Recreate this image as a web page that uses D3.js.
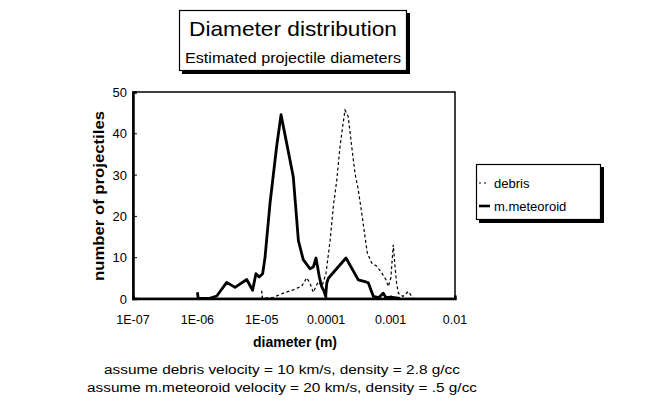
<!DOCTYPE html>
<html>
<head>
<meta charset="utf-8">
<script src="https://cdn.jsdelivr.net/npm/d3@7"></script>
<style>
  body { margin: 0; background: #fff; }
  text { font-family: Arial, "Liberation Sans", sans-serif; fill: #000; }
</style>
</head>
<body>
<script>
// Values
const xTickValues = [1e-7, 1e-6, 1e-5, 1e-4, 1e-3, 1e-2];
const xTickLabels = ["1E-07", "1E-06", "1E-05", "0.0001", "0.001", "0.01"];
const yTickValues = [0, 10, 20, 30, 40, 50];

const meteoroidD = [1.0e-6, 1.03e-6, 1.5e-6, 2.0e-6, 2.85e-6, 3.84e-6, 5.83e-6, 7.2e-6, 8.1e-6, 9.1e-6,
  1.03e-5, 1.12e-5, 1.34e-5, 1.70e-5, 1.99e-5, 2.44e-5, 3.08e-5, 3.7e-5, 4.4e-5, 5.6e-5,
  6.3e-5, 6.95e-5, 7.8e-5, 8.5e-5, 9.3e-5, 9.8e-5, 1.02e-4, 1.08e-4, 2.03e-4, 3.15e-4,
  4.0e-4, 4.5e-4, 5.4e-4, 6.5e-4, 7.7e-4, 8.5e-4, 1.0e-3, 1.4e-3];
const meteoroidN = [1.5, 0, 0, 0.6, 3.9, 2.7, 4.6, 2, 6, 5.2,
  6, 9.8, 23, 36.8, 44.5, 37.5, 29.5, 14, 9.4, 7.2,
  7.6, 9.8, 5.3, 2.9, 1.7, 0.5, 3.7, 4.9, 9.8, 4.5,
  4.1, 3.8, 0.5, 0.2, 1.3, 0.2, 0.3, 0];

const debrisD = [9.95e-6, 1.02e-5, 1.51e-5, 2.16e-5, 3.08e-5, 4.17e-5, 4.98e-5, 5.6e-5, 6.3e-5, 7.5e-5,
  8.6e-5, 9.9e-5, 1.15e-4, 1.29e-4, 1.46e-4, 1.64e-4, 1.80e-4, 1.96e-4, 2.20e-4, 2.49e-4,
  2.80e-4, 3.15e-4, 3.56e-4, 4.0e-4, 4.35e-4, 5.1e-4, 6.1e-4, 7.3e-4, 8.5e-4, 9.2e-4,
  1.01e-3, 1.10e-3, 1.17e-3, 1.24e-3, 1.32e-3, 1.55e-3, 1.88e-3, 2.25e-3];
const debrisN = [1.9, 0, 0.3, 1.3, 2.1, 3, 5, 3.7, 1.5, 4,
  3, 6, 14, 22.3, 28.7, 36.8, 41.6, 45.6, 44, 36.8,
  30.3, 26.3, 20.7, 15, 11, 8.6, 7.8, 6.2, 4.5, 2.9,
  5, 13, 7.8, 3.7, 1.3, 0.5, 1.7, 0];

const svg = d3.select('body').append('svg')
  .attr('width', 660)
  .attr('height', 417);

// plot area
const plotLeft = 133, plotRight = 455, plotTop = 92, plotBottom = 298.5;

const xScale = d3.scaleLog().domain([1e-7, 1e-2]).range([plotLeft, plotRight]);
const yScale = d3.scaleLinear().domain([0, 50]).range([plotBottom, plotTop]);

// title box with shadow
svg.append('rect').attr('x', 182).attr('y', 13).attr('width', 228).attr('height', 61).attr('fill', '#000');
svg.append('rect').attr('x', 179.5).attr('y', 10.5).attr('width', 227).attr('height', 60)
  .attr('fill', '#fff').attr('stroke', '#000').attr('stroke-width', 1.2);
svg.append('text').attr('x', 293).attr('y', 36).attr('text-anchor', 'middle')
  .attr('font-size', '21px').attr('textLength', 208).attr('lengthAdjust', 'spacingAndGlyphs')
  .text('Diameter distribution');
svg.append('text').attr('x', 293).attr('y', 63).attr('text-anchor', 'middle')
  .attr('font-size', '15px').attr('textLength', 216).attr('lengthAdjust', 'spacingAndGlyphs')
  .text('Estimated projectile diameters');

// frame
svg.append('rect').attr('x', plotLeft).attr('y', plotTop)
  .attr('width', plotRight - plotLeft).attr('height', plotBottom - plotTop)
  .attr('fill', 'none').attr('stroke', '#000').attr('stroke-width', 1.5);

// y axis
const yAxis = svg.append('g')
  .attr('transform', 'translate(' + plotLeft + ',0)')
  .call(d3.axisRight(yScale).tickValues(yTickValues).tickSize(4).tickFormat(''));
yAxis.select('.domain').attr('stroke-width', 2.5);
svg.selectAll('.ylab')
  .data(yTickValues)
  .enter().append('text')
  .attr('class', 'ylab')
  .attr('x', 127)
  .attr('y', d => yScale(d) + 5)
  .attr('text-anchor', 'end')
  .attr('font-size', '13px')
  .text(d => d);

// x axis
const xAxis = svg.append('g')
  .attr('transform', 'translate(0,' + plotBottom + ')')
  .call(d3.axisTop(xScale).tickValues(xTickValues).tickSize(3).tickFormat(''));
xAxis.select('.domain').attr('stroke-width', 2.5);
svg.selectAll('.xlab')
  .data(xTickValues)
  .enter().append('text')
  .attr('class', 'xlab')
  .attr('x', d => xScale(d))
  .attr('y', 324)
  .attr('text-anchor', 'middle')
  .attr('font-size', '12.5px')
  .text((d, i) => xTickLabels[i]);

// axis titles
svg.append('text').attr('x', 295).attr('y', 347).attr('text-anchor', 'middle')
  .attr('font-size', '14px').attr('font-weight', 'bold').text('diameter (m)');
svg.append('text')
  .attr('transform', 'translate(104,196) rotate(-90)')
  .attr('text-anchor', 'middle')
  .attr('font-size', '15px').attr('font-weight', 'bold')
  .attr('textLength', 170).attr('lengthAdjust', 'spacingAndGlyphs')
  .text('number of projectiles');

// lines
const line = d3.line()
  .x(d => xScale(d[0]))
  .y(d => yScale(d[1]));

svg.append('path')
  .datum(debrisD.map((d, i) => [d, debrisN[i]]))
  .attr('d', line)
  .attr('fill', 'none')
  .attr('stroke', '#000')
  .attr('stroke-width', 1.2)
  .attr('stroke-dasharray', '3,2.5');

svg.append('path')
  .datum(meteoroidD.map((d, i) => [d, meteoroidN[i]]))
  .attr('d', line)
  .attr('fill', 'none')
  .attr('stroke', '#000')
  .attr('stroke-width', 2.8)
  .attr('stroke-linejoin', 'round');

// legend
svg.append('rect').attr('x', 479).attr('y', 167).attr('width', 125).attr('height', 56).attr('fill', '#000');
svg.append('rect').attr('x', 476.5).attr('y', 164.5).attr('width', 124).attr('height', 55)
  .attr('fill', '#fff').attr('stroke', '#000').attr('stroke-width', 1.2);
svg.append('line').attr('x1', 479).attr('x2', 489).attr('y1', 183).attr('y2', 183)
  .attr('stroke', '#000').attr('stroke-width', 1.2).attr('stroke-dasharray', '2,3');
svg.append('line').attr('x1', 479).attr('x2', 490).attr('y1', 206).attr('y2', 206)
  .attr('stroke', '#000').attr('stroke-width', 2.6);
svg.append('text').attr('x', 494).attr('y', 188).attr('font-size', '13px').text('debris');
svg.append('text').attr('x', 494).attr('y', 211).attr('font-size', '13px').text('m.meteoroid');

// notes
svg.append('text').attr('x', 282).attr('y', 374).attr('text-anchor', 'middle')
  .attr('font-size', '12.5px').attr('textLength', 356).attr('lengthAdjust', 'spacingAndGlyphs')
  .text('assume debris velocity = 10 km/s, density = 2.8 g/cc');
svg.append('text').attr('x', 282).attr('y', 392).attr('text-anchor', 'middle')
  .attr('font-size', '12.5px').attr('textLength', 390).attr('lengthAdjust', 'spacingAndGlyphs')
  .text('assume m.meteoroid velocity = 20 km/s, density = .5 g/cc');
</script>
</body>
</html>
